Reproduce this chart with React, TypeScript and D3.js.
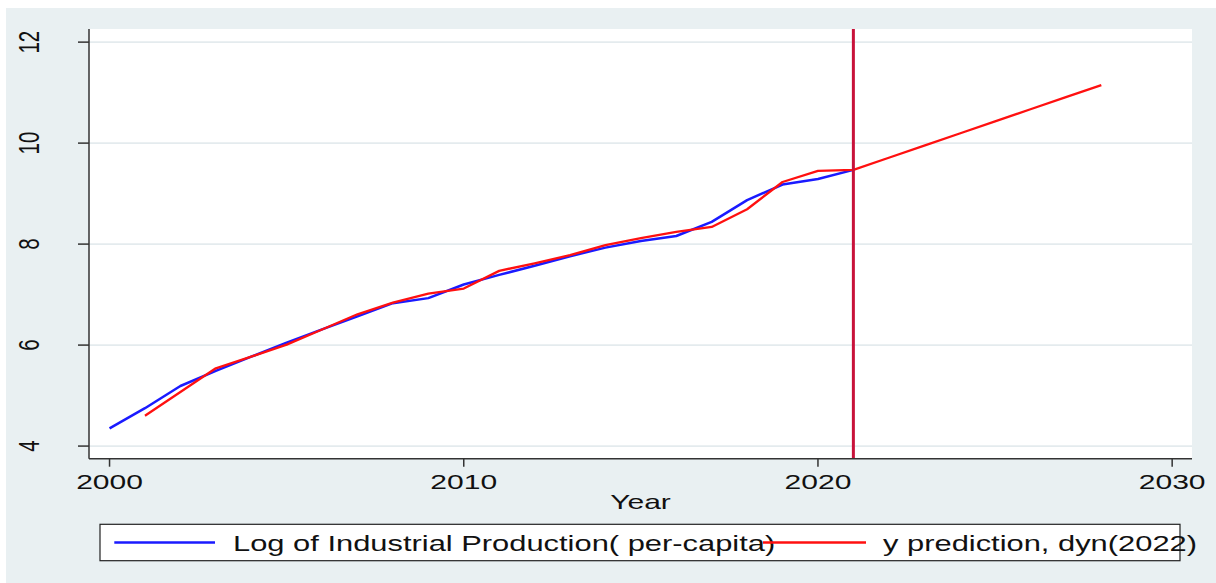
import React from 'react';
import * as d3 from 'd3';

// ---- data ----
const actualYears = [2000, 2001, 2002, 2003, 2004, 2005, 2006, 2007, 2008, 2009, 2010,
  2011, 2012, 2013, 2014, 2015, 2016, 2017, 2018, 2019, 2020, 2021];
const actualValues = [4.35, 4.75, 5.19, 5.49, 5.77, 6.05, 6.31, 6.57, 6.83, 6.93, 7.2,
  7.39, 7.57, 7.76, 7.93, 8.06, 8.16, 8.44, 8.87, 9.18, 9.29, 9.47];

const predYears = [2001, 2002, 2003, 2004, 2005, 2006, 2007, 2008, 2009, 2010, 2011,
  2012, 2013, 2014, 2015, 2016, 2017, 2018, 2019, 2020, 2021, 2022, 2023, 2024,
  2025, 2026, 2027, 2028];
const predValues = [4.6, 5.07, 5.54, 5.77, 6.01, 6.31, 6.61, 6.84, 7.02, 7.12, 7.47,
  7.62, 7.78, 7.98, 8.12, 8.24, 8.34, 8.69, 9.23, 9.45, 9.47, 9.71, 9.95, 10.19,
  10.43, 10.67, 10.91, 11.15];

const xTicks = [2000, 2010, 2020, 2030];
const yTicks = [4, 6, 8, 10, 12];
const cutYear = 2021;

const seriesLabels = ['Log of Industrial Production( per-capita)', 'y prediction, dyn(2022)'];
const xTitle = 'Year';

// ---- layout ----
const width = 1216;
const height = 583;
const plot = { left: 89, right: 1192, top: 29, bottom: 458.7 };
const font = '"Liberation Sans", Arial, Helvetica, sans-serif';
const sx = 1.43; // stata export is stretched horizontally
const bgColor = '#e9f0f2';
const gridColor = '#e4ebee';

export default function App() {
  const x = d3.scaleLinear().domain([1999.42, 2030.56]).range([plot.left, plot.right]);
  const y = d3.scaleLinear().domain([3.75, 12.26]).range([plot.bottom, plot.top]);

  const line = d3.line<[number, number]>()
    .x(d => x(d[0]))
    .y(d => y(d[1]));

  const actualPath = line(actualYears.map((yr, i) => [yr, actualValues[i]]));
  const predPath = line(predYears.map((yr, i) => [yr, predValues[i]]));

  const legend = { x: 100, y: 524.3, w: 1080, h: 36.4 };
  const keyY = legend.y + legend.h / 2;

  return (
    <svg width={width} height={height}
      style={{ position: 'absolute', left: 0, top: 0, display: 'block' }}
      fontFamily={font}>
      <rect x={0} y={0} width={width} height={height} fill="#fff" />
      <rect x={6} y={8} width={width - 6} height={height - 8} fill={bgColor} />
      {/* plot region */}
      <rect x={plot.left} y={plot.top} width={plot.right - plot.left}
        height={plot.bottom - plot.top} fill="#fff" />

      {/* grid */}
      {yTicks.map(t => (
        <line key={'g' + t} x1={plot.left} x2={plot.right} y1={y(t)} y2={y(t)}
          stroke={gridColor} strokeWidth={1.6} />
      ))}

      {/* series */}
      <path d={actualPath!} fill="none" stroke="#1a1aff" strokeWidth={2.5} strokeLinejoin="round" />
      <path d={predPath!} fill="none" stroke="#ff1010" strokeWidth={2.3} strokeLinejoin="round" />

      {/* vertical reference line */}
      <line x1={x(cutYear)} x2={x(cutYear)} y1={plot.top} y2={plot.bottom}
        stroke="#c8123a" strokeWidth={3} />

      {/* axes */}
      <line x1={plot.left} x2={plot.left} y1={plot.top} y2={plot.bottom} stroke="#333" strokeWidth={1.5} />
      <line x1={plot.left} x2={plot.right} y1={plot.bottom} y2={plot.bottom} stroke="#333" strokeWidth={1.5} />

      {yTicks.map(t => (
        <g key={'y' + t}>
          <line x1={plot.left - 11} x2={plot.left} y1={y(t)} y2={y(t)} stroke="#333" strokeWidth={1.5} />
          <text transform={`translate(38.5,${y(t)}) scale(${sx},1) rotate(-90)`}
            textAnchor="middle" fontSize={20.5} fill="#111">{t}</text>
        </g>
      ))}

      {xTicks.map(t => (
        <g key={'x' + t}>
          <line x1={x(t)} x2={x(t)} y1={plot.bottom} y2={plot.bottom + 8} stroke="#333" strokeWidth={1.5} />
          <text transform={`translate(${x(t)},489) scale(${sx},1)`}
            textAnchor="middle" fontSize={21} fill="#111">{t}</text>
        </g>
      ))}

      <text transform={`translate(${(plot.left + plot.right) / 2},509) scale(${sx},1)`}
        textAnchor="middle" fontSize={21} fill="#111">{xTitle}</text>

      {/* legend */}
      <rect x={legend.x} y={legend.y} width={legend.w} height={legend.h}
        fill="#fff" stroke="#222" strokeWidth={1.2} />
      <line x1={114.3} x2={215} y1={keyY} y2={keyY} stroke="#1a1aff" strokeWidth={2.5} />
      <text transform={`translate(233,551) scale(1.45,1)`} fontSize={21.3} fill="#111">{seriesLabels[0]}</text>
      <line x1={763} x2={866} y1={keyY} y2={keyY} stroke="#ff1010" strokeWidth={2.3} />
      <text transform={`translate(883,551) scale(1.45,1)`} fontSize={21.3} fill="#111">{seriesLabels[1]}</text>
    </svg>
  );
}
